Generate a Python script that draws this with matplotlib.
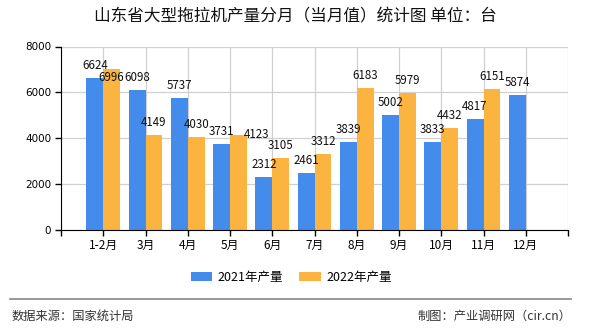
import matplotlib
matplotlib.use("Agg")
import matplotlib.pyplot as plt
import numpy as np
from matplotlib.patches import Patch
from matplotlib.lines import Line2D

plt.rcParams['font.family'] = ['Noto Sans CJK SC', 'DejaVu Sans']

categories = ['1-2月', '3月', '4月', '5月', '6月', '7月', '8月', '9月', '10月', '11月', '12月']
values_2021 = [6624, 6098, 5737, 3731, 2312, 2461, 3839, 5002, 3833, 4817, 5874]
values_2022 = [6996, 4149, 4030, 4123, 3105, 3312, 6183, 5979, 4432, 6151, None]
series_names = ['2021年产量', '2022年产量']
y_ticks = [0, 2000, 4000, 6000, 8000]
title = '山东省大型拖拉机产量分月（当月值）统计图 单位：台'
source_text = '数据来源：国家统计局'
maker_text = '制图：产业调研网（cir.cn）'

blue = '#438CEB'
orange = '#FBB440'

# label collision nudges (pixels): (series index, category index) -> (dx, dy)
label_nudge = {(1, 0): (0, -21), (1, 3): (18.5, -12)}

fig = plt.figure(figsize=(5.9, 3.3), dpi=100)
ax = fig.add_axes([61/590, 1-229.5/330, (568-61)/590, (229.5-46.5)/330])

x = np.arange(1, len(categories) + 1)
w = 0.4

for si, (vals, col, off) in enumerate([(values_2021, blue, -w/2), (values_2022, orange, w/2)]):
    for ci, (xi, v) in enumerate(zip(x, vals)):
        if v is None:
            continue
        ax.bar(xi + off, v, width=w, color=col, zorder=3)
        dx, dy = label_nudge.get((si, ci), (0, 0))
        ax.annotate(str(v), (xi + off, v), xytext=(dx * 0.72, (9 + dy) * 0.72),
                    textcoords='offset points', ha='center', va='baseline',
                    fontsize=8.3, color='#111111', zorder=4)

ax.set_xlim(0, len(categories) + 1)
ax.set_ylim(0, 8000)
ax.set_xticks(np.arange(0, len(categories) + 2))
ax.set_xticklabels([''] + categories + [''], fontsize=8.5)
ax.set_yticks(y_ticks)
ax.set_yticklabels([str(t) for t in y_ticks], fontsize=7.5, family='DejaVu Sans')
ax.grid(True, color='#D0D0D0', linewidth=0.9, zorder=0)
for s in ['top', 'right']:
    ax.spines[s].set_visible(False)
ax.spines['left'].set_color('black')
ax.spines['bottom'].set_color('black')
ax.spines['left'].set_zorder(5)
ax.spines['bottom'].set_zorder(5)
ax.tick_params(axis='both', direction='out', length=4, width=1, color='black', pad=3)

fig.text(0.5, 1-17/330, title, ha='center', va='center', fontsize=12, color='#111111')

handles = [Patch(facecolor=blue, edgecolor='none'), Patch(facecolor=orange, edgecolor='none')]
fig.legend(handles, series_names, loc='center', bbox_to_anchor=(291/590, 1-277/330), ncol=2,
           frameon=False, fontsize=9, handlelength=1.75, handleheight=0.7,
           handletextpad=0.4, columnspacing=1.3)

fig.add_artist(Line2D([10/590, 571/590], [1-298.5/330, 1-298.5/330], color='#888888', linewidth=1.2))
fig.text(12/590, 1-316/330, source_text, ha='left', va='center', fontsize=8.8, color='#333333')
fig.text(571/590, 1-316/330, maker_text, ha='right', va='center', fontsize=8.8, color='#333333')

fig.savefig('out.png', dpi=100)
